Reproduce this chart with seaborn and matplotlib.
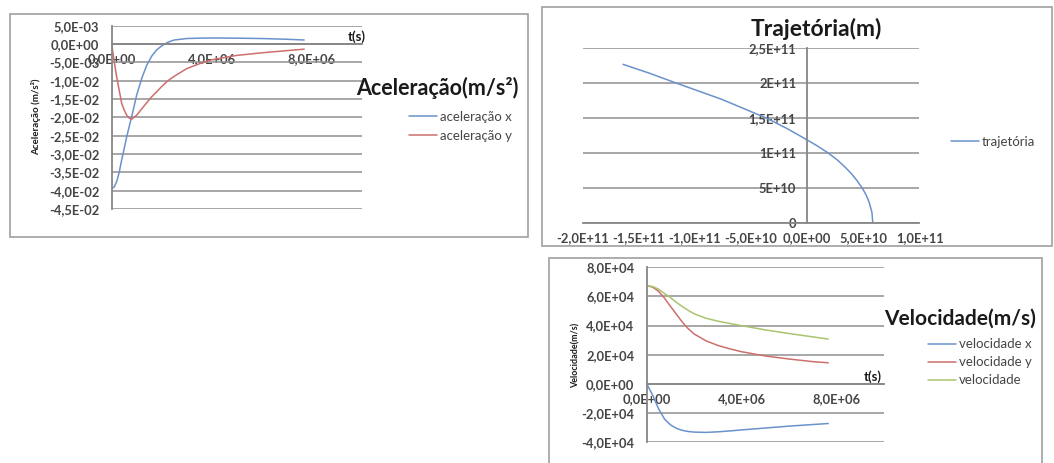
"""
Excel-style charts: aceleração, trajetória e velocidade
"""
import numpy as np
import pandas as pd
import matplotlib
matplotlib.use('Agg')
import matplotlib.pyplot as plt
from matplotlib.patches import Rectangle
import seaborn as sns

# ---- data ----
t_acel = [0, 0.1, 0.2, 0.3, 0.4, 0.5, 0.6, 0.7, 0.8, 1.0, 1.2, 1.4, 1.6, 1.8,
          2.0, 2.25, 2.5, 3.0, 3.5, 4.0, 5.0, 6.0, 7.0, 7.7]  # x 1e6 s
acel_x = [-39.4, -39.0, -37.5, -35.0, -31.6, -28.5, -25.3, -22.5, -19.8, -13.9,
          -9.4, -5.8, -3.3, -1.6, -0.5, 0.5, 1.1, 1.5, 1.6, 1.65, 1.6, 1.5, 1.3, 1.1]  # x 1e-3
acel_y = [0, -4.8, -9.0, -12.6, -16.2, -18.0, -19.4, -20.2, -20.5, -19.4,
          -17.7, -16.0, -14.4, -13.0, -11.6, -10.0, -8.8, -6.7, -5.4, -4.3, -3.1, -2.4, -1.8, -1.4]

traj_x = [5.84, 5.76, 5.50, 5.24, 4.88, 4.45, 3.95, 3.35, 2.68, 1.86, 0.9, 0.0,
          -1.8, -3.64, -7.64, -11.64, -14.0, -16.4]  # x 1e10 m
traj_y = [0.0, 1.5, 3.0, 4.0, 5.0, 6.0, 7.0, 8.0, 9.0, 10.0, 11.0, 11.86,
          13.5, 15.0, 17.7, 20.0, 21.4, 22.7]

t_vel = [0, 0.25, 0.5, 0.75, 1.0, 1.25, 1.5, 1.75, 2.0, 2.5, 3.0, 3.5, 4.0, 5.0, 6.0, 7.0, 7.65]  # x 1e6 s
vel_x = [0, -0.78, -1.72, -2.42, -2.82, -3.06, -3.2, -3.28, -3.32, -3.34, -3.3, -3.24,
         -3.17, -3.04, -2.91, -2.8, -2.73]  # x 1e4 m/s
vel_y = [6.74, 6.64, 6.35, 5.88, 5.32, 4.78, 4.24, 3.78, 3.42, 2.95, 2.63, 2.40,
         2.20, 1.91, 1.70, 1.52, 1.44]
vel = [6.74, 6.68, 6.5, 6.2, 5.92, 5.6, 5.3, 5.04, 4.81, 4.5, 4.3, 4.14,
       3.99, 3.7, 3.45, 3.22, 3.07]

# axis ticks (Excel layout)
acel_yticks = [0.005, 0, -0.005, -0.01, -0.015, -0.02, -0.025, -0.03, -0.035, -0.04, -0.045]
time_xticks = [0, 4e6, 8e6]
traj_xticks = [-2e11, -1.5e11, -1e11, -5e10, 0, 5e10, 1e11]
traj_yticks = [0, 5e10, 1e11, 1.5e11, 2e11, 2.5e11]
vel_yticks = [-4e4, -2e4, 0, 2e4, 4e4, 6e4, 8e4]

BLUE, RED, GREEN = '#6a92cc', '#cd6f6c', '#a9c46f'
AXIS = '#868686'
TXT = '#454545'
DARK = '#1a1a1a'

W, H = 1054, 463


def rect(x0, y0, x1, y1):
    """pixel box (top-left origin) -> figure rect"""
    return [x0 / W, 1 - y1 / H, (x1 - x0) / W, (y1 - y0) / H]


def fx(x):
    return x / W


def fy(y):
    return 1 - y / H


def sci(v):
    if v == 0:
        return "0,0E+00"
    return f"{v:.1E}".replace('.', ',')


def general(v):
    if v == 0:
        return "0"
    return f"{v:.2g}".upper().replace('.', ',')


def style_axes(ax, xt, yt, xfmt, yfmt, size=9.3, ypad=6):
    for s in ['top', 'right']:
        ax.spines[s].set_visible(False)
    for s in ['left', 'bottom']:
        ax.spines[s].set_color(AXIS)
        ax.spines[s].set_linewidth(1.3)
    ax.yaxis.grid(True, color='#8f8f8f', lw=1.1)
    ax.xaxis.grid(False)
    ax.set_axisbelow(True)
    ax.tick_params(direction='out', length=3, width=1, color=AXIS)
    ax.tick_params(axis='y', pad=ypad)
    ax.set_xlabel('')
    ax.set_ylabel('')
    ax.set_xticks(xt)
    ax.set_xticklabels([xfmt(v) for v in xt], fontweight='bold', fontsize=size, color=TXT)
    ax.set_yticks(yt)
    ax.set_yticklabels([yfmt(v) for v in yt], fontweight='bold', fontsize=size, color=TXT)


def legend_at(ax, x, y, spacing, size=9.5):
    ax.legend(loc='center left', bbox_to_anchor=(fx(x), fy(y)),
              bbox_transform=ax.figure.transFigure, frameon=False,
              fontsize=size, handlelength=2.1, handletextpad=0.25,
              borderpad=0, borderaxespad=0, labelspacing=spacing,
              labelcolor=TXT)


sns.set_style('white')
plt.rcParams['font.family'] = ['Lato', 'DejaVu Sans']

fig = plt.figure(figsize=(10.54, 4.63), dpi=100)
fig.patch.set_facecolor('white')

# chart frames
for (x0, y0, x1, y1) in [(10, 14, 528, 237), (542, 7, 1052, 246), (549, 258, 1042, 480)]:
    fig.add_artist(Rectangle((fx(x0), fy(y1)), (x1 - x0) / W, (y1 - y0) / H,
                             transform=fig.transFigure, fill=False,
                             edgecolor='#a0a0a0', lw=1.2))

# ---- Aceleração ----
df_a = pd.DataFrame({'t': np.array(t_acel) * 1e6,
                     'ax': np.array(acel_x) * 1e-3,
                     'ay': np.array(acel_y) * 1e-3})
ax1 = fig.add_axes(rect(111.7, 25.7, 361.7, 209))
sns.lineplot(data=df_a, x='t', y='ax', ax=ax1, color=BLUE, lw=1.1, label='aceleração x')
sns.lineplot(data=df_a, x='t', y='ay', ax=ax1, color=RED, lw=1.1, label='aceleração y')
ax1.spines['bottom'].set_position(('data', 0))
ax1.set_xlim(0, 1e7)
ax1.set_ylim(-0.045, 0.005)
style_axes(ax1, time_xticks, acel_yticks, sci, sci, ypad=6)
legend_at(ax1, 409, 126.3, 0.55)
fig.text(fx(437), fy(88), 'Aceleração(m/s²)', ha='center', va='center',
         fontsize=15.5, fontweight='bold', color=DARK)
fig.text(fx(36), fy(117), 'Aceleração (m/s²)', rotation=90, ha='center', va='center',
         fontsize=7, fontweight='bold', color=DARK)
fig.text(fx(357), fy(37), 't(s)', ha='center', va='center',
         fontsize=9.5, fontweight='bold', color=DARK)

# ---- Trajetória ----
df_t = pd.DataFrame({'x': np.array(traj_x) * 1e10, 'y': np.array(traj_y) * 1e10})
ax2 = fig.add_axes(rect(582.7, 48.3, 919.5, 222.7))
sns.lineplot(data=df_t, x='x', y='y', ax=ax2, color=BLUE, lw=1.1, sort=False,
             estimator=None, label='trajetória')
ax2.spines['left'].set_position(('data', 0))
ax2.set_xlim(-2e11, 1e11)
ax2.set_ylim(0, 2.5e11)
style_axes(ax2, traj_xticks, traj_yticks, sci, general, ypad=5)
legend_at(ax2, 951, 142, 0.5)
fig.text(fx(816), fy(29), 'Trajetória(m)', ha='center', va='center',
         fontsize=16.5, fontweight='bold', color=DARK)

# ---- Velocidade ----
df_v = pd.DataFrame({'t': np.array(t_vel) * 1e6,
                     'vx': np.array(vel_x) * 1e4,
                     'vy': np.array(vel_y) * 1e4,
                     'v': np.array(vel) * 1e4})
ax3 = fig.add_axes(rect(646.7, 267.3, 884, 442))
sns.lineplot(data=df_v, x='t', y='vx', ax=ax3, color=BLUE, lw=1.1, label='velocidade x')
sns.lineplot(data=df_v, x='t', y='vy', ax=ax3, color=RED, lw=1.1, label='velocidade y')
sns.lineplot(data=df_v, x='t', y='v', ax=ax3, color=GREEN, lw=1.1, label='velocidade')
ax3.spines['bottom'].set_position(('data', 0))
ax3.set_xlim(0, 1e7)
ax3.set_ylim(-4e4, 8e4)
style_axes(ax3, time_xticks, vel_yticks, sci, sci, ypad=6)
legend_at(ax3, 928, 362.3, 0.45)
fig.text(fx(960), fy(319), 'Velocidade(m/s)', ha='center', va='center',
         fontsize=15, fontweight='bold', color=DARK)
fig.text(fx(576), fy(355), 'Velocidade(m/s)', rotation=90, ha='center', va='center',
         fontsize=6.5, fontweight='bold', color=DARK)
fig.text(fx(873), fy(377), 't(s)', ha='center', va='center',
         fontsize=9.5, fontweight='bold', color=DARK)

plt.savefig('out.png', dpi=100)
plt.close()
